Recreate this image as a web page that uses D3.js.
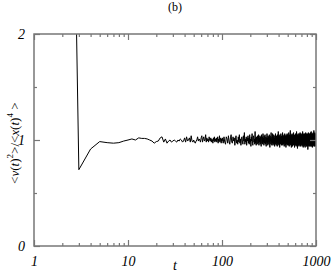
<!DOCTYPE html>
<html>
<head>
<meta charset="utf-8">
<script src="https://cdn.jsdelivr.net/npm/d3@7"></script>
<style>
	body { margin: 0; background: #fff; }
	svg { display: block; font-family: "Liberation Serif", "DejaVu Serif", serif; }
	.axis path { display: none; }
	.axis line { stroke: #777; stroke-width: 1.2; }
</style>
</head>
<body>
<div id="chart"></div>
<script>

/* early part of the curve, t = 2 .. 20 */
var tEarly = [2, 3, 4, 5, 6, 7, 8, 9, 10, 11, 12, 13, 14, 15, 16, 17, 18, 19, 20];
var vEarly = [10, 0.72, 0.915, 0.985, 0.975, 0.97, 0.975, 0.99, 1.0, 1.01, 1.0, 1.02, 1.015, 1.015, 1.01, 1.0, 0.99, 0.97, 0.985];

/* t = 21 .. 100 */
var tMid = d3.range(21, 101);
var vMid = [
	0.99, 1.02, 1.03, 0.98, 1.01, 0.97, 0.99, 1.0, 0.98, 0.99,
	1.0, 0.99, 0.98, 1.0, 0.99, 1.01, 1.0, 0.98, 0.99, 1.02,
	0.98, 1.03, 0.99, 1.0, 1.02, 0.98, 1.04, 0.99, 0.98, 1.0,
	0.98, 0.97, 0.99, 1.0, 1.03, 0.99, 1.01, 1.0, 0.98, 1.02,
	1.04, 0.98, 1.01, 1.03, 0.99, 1.0, 1.05, 0.98, 1.02, 0.99,
	1.01, 0.98, 1.03, 1.0, 0.99, 1.02, 0.98, 1.01, 1.0, 0.97,
	1.02, 0.99, 1.03, 0.98, 1.01, 0.99, 1.02, 0.98, 1.0, 1.03,
	0.97, 1.01, 0.99, 1.04, 0.98, 1.0, 1.02, 0.97, 1.01, 0.99
];

/* t = 101 .. 999, every second step */
var tLate = d3.range(101, 1000, 2);
var vLate = [
	1.02, 0.97, 1.03, 0.98, 0.96, 1.03, 1.01, 0.97, 1.04, 0.99, 0.96, 1.02, 1.05, 0.98, 0.97, 1.03, 0.99, 1.02, 0.95, 1.01, 1.04, 0.97, 1.00, 0.96, 1.03,
	0.98, 1.05, 0.97, 1.01, 0.95, 1.02, 1.03, 0.98, 0.96, 1.04, 0.99, 1.07, 0.96, 1.01, 0.98, 1.03, 0.95, 1.02, 0.99, 1.04, 0.97, 1.02, 0.96, 1.05, 0.98,
	1.01, 0.94, 1.03, 0.99, 1.06, 0.97, 0.95, 1.02, 1.04, 0.98, 1.01, 0.96, 1.08, 0.97, 1.02, 0.95, 1.03, 0.99, 0.96, 1.04, 1.01, 0.97, 1.05, 0.95, 1.02,
	0.98, 1.04, 0.96, 1.03, 0.99, 0.94, 1.05, 1.00, 0.97, 1.03, 0.96, 1.06, 0.98, 1.02, 0.95, 1.04, 0.97, 1.01, 1.05, 0.96, 0.99, 1.03, 0.94, 1.02, 0.98,
	1.06, 0.97, 1.02, 0.95, 1.04, 0.98, 1.03, 0.96, 1.00, 1.05, 0.97, 0.93, 1.04, 0.99, 1.02, 0.96, 1.07, 0.98, 1.01, 0.95, 1.03, 0.97, 1.06, 0.99, 0.95,
	1.03, 0.97, 1.05, 0.96, 1.02, 0.98, 0.94, 1.04, 1.01, 0.96, 1.06, 0.98, 1.03, 0.95, 1.00, 1.04, 0.97, 1.02, 0.94, 1.05, 0.99, 1.03, 0.96, 1.08, 0.97,
	1.01, 0.95, 1.04, 0.98, 1.02, 0.93, 1.05, 0.97, 1.03, 0.99, 0.96, 1.06, 0.98, 1.02, 0.95, 1.04, 1.00, 0.96, 1.03, 0.98, 1.07, 0.95, 1.02, 0.97, 1.04,
	0.96, 1.03, 0.99, 1.05, 0.94, 1.02, 0.97, 1.06, 0.98, 1.01, 0.95, 1.04, 0.97, 1.03, 0.93, 1.05, 0.99, 1.02, 0.96, 1.04, 0.98, 1.06, 0.95, 1.01, 0.97,
	1.05, 0.96, 1.02, 0.98, 1.04, 0.95, 1.07, 0.97, 1.01, 0.94, 1.03, 0.99, 1.05, 0.96, 1.02, 0.98, 1.09, 0.96, 1.03, 0.95, 1.04, 0.98, 1.01, 0.93, 1.05,
	0.97, 1.03, 0.96, 1.06, 0.98, 1.02, 0.94, 1.04, 0.99, 1.05, 0.96, 1.02, 0.97, 1.07, 0.95, 1.03, 0.98, 1.04, 0.96, 1.01, 0.93, 1.05, 0.98, 1.03, 0.96,
	1.04, 0.97, 1.06, 0.95, 1.02, 0.98, 1.05, 0.94, 1.03, 0.97, 1.08, 0.96, 1.01, 0.95, 1.04, 0.98, 1.02, 0.92, 1.05, 0.97, 1.03, 0.96, 1.06, 0.98, 1.02,
	0.95, 1.04, 0.97, 1.03, 0.94, 1.06, 0.98, 1.02, 0.96, 1.05, 0.99, 1.03, 0.95, 1.07, 0.97, 1.02, 0.94, 1.04, 0.98, 1.06, 0.96, 1.01, 0.95, 1.04, 0.97,
	1.05, 0.96, 1.03, 0.98, 1.06, 0.94, 1.02, 0.97, 1.04, 0.95, 1.08, 0.98, 1.03, 0.96, 1.05, 0.93, 1.02, 0.97, 1.04, 0.96, 1.06, 0.98, 1.01, 0.94, 1.05,
	0.97, 1.03, 0.95, 1.06, 0.98, 1.02, 0.96, 1.04, 0.93, 1.05, 0.97, 1.03, 0.96, 1.07, 0.98, 1.02, 0.95, 1.04, 0.97, 1.06, 0.94, 1.03, 0.98, 1.05, 0.96,
	1.04, 0.97, 1.02, 0.94, 1.06, 0.98, 1.03, 0.96, 1.05, 0.91, 1.04, 0.97, 1.02, 0.95, 1.07, 0.98, 1.03, 0.96, 1.05, 0.94, 1.02, 0.97, 1.06, 0.95, 1.03,
	0.98, 1.05, 0.96, 1.03, 0.94, 1.06, 0.97, 1.02, 0.95, 1.04, 0.98, 1.07, 0.96, 1.03, 0.94, 1.05, 0.97, 1.02, 0.95, 1.08, 0.97, 1.03, 0.96, 1.05, 0.94,
	1.04, 0.97, 1.06, 0.95, 1.02, 0.98, 1.05, 0.93, 1.03, 0.97, 1.06, 0.96, 1.04, 0.98, 1.02, 0.94, 1.07, 0.97, 1.03, 0.95, 1.05, 0.98, 1.02, 0.96, 1.09,
	0.96, 1.03, 0.95, 1.06, 0.98, 1.04, 0.94, 1.05, 0.97, 1.03, 0.96, 1.07, 0.95, 1.02, 0.98, 1.05, 0.94, 1.04, 0.97, 1.06, 0.96, 1.03, 0.95, 1.05, 0.97
];

var xMajor = [1, 10, 100, 1000];
var xMinor = [2, 3, 4, 5, 6, 7, 8, 9, 20, 30, 40, 50, 60, 70, 80, 90, 200, 300, 400, 500, 600, 700, 800, 900];
var yMajor = [0, 1, 2];
var yMinor = [0.5, 1.5];

var W = 332, H = 273;
var margin = {top: 34, right: 16, bottom: 27, left: 34};
var width = W - margin.left - margin.right;
var height = H - margin.top - margin.bottom;

var svg = d3.select("#chart").append("svg")
	.attr("width", W)
	.attr("height", H);

var g = svg.append("g")
	.attr("transform", "translate(" + margin.left + "," + margin.top + ")");

var x = d3.scaleLog().domain([1, 1000]).range([0, width]);
var y = d3.scaleLinear().domain([0, 2]).range([height, 0]);

var data = [];
tEarly.forEach(function(t, i){ data.push({t: t, v: vEarly[i]}); });
tMid.forEach(function(t, i){ data.push({t: t, v: vMid[i]}); });
tLate.forEach(function(t, i){ data.push({t: t, v: vLate[i]}); });

g.append("clipPath").attr("id", "clip")
	.append("rect").attr("width", width).attr("height", height);

var line = d3.line()
	.x(function(d){ return x(d.t); })
	.y(function(d){ return y(d.v); });

g.append("path")
	.datum(data)
	.attr("clip-path", "url(#clip)")
	.attr("fill", "none")
	.attr("stroke", "#000")
	.attr("stroke-width", 1)
	.attr("d", line);

/* ticks point inward on all four sides */
var fmt = function(d){ return d; };

var styleLabels = function(sel){
	sel.selectAll("text")
		.style("font-family", "'Liberation Serif', serif")
		.style("font-size", "14px")
		.style("font-style", "italic")
		.attr("fill", "#000");
};

g.append("g").attr("class", "axis")
	.attr("transform", "translate(0," + height + ")")
	.call(d3.axisBottom(x).tickValues(xMajor).tickFormat(fmt).tickSizeInner(-6).tickPadding(8))
	.call(styleLabels)
	.selectAll("text").attr("dy", "0.85em");
g.append("g").attr("class", "axis")
	.attr("transform", "translate(0," + height + ")")
	.call(d3.axisBottom(x).tickValues(xMinor).tickFormat("").tickSizeInner(-3));
g.append("g").attr("class", "axis")
	.call(d3.axisTop(x).tickValues(xMajor).tickFormat("").tickSizeInner(-6));
g.append("g").attr("class", "axis")
	.call(d3.axisTop(x).tickValues(xMinor).tickFormat("").tickSizeInner(-3));

g.append("g").attr("class", "axis")
	.call(d3.axisLeft(y).tickValues(yMajor).tickFormat(fmt).tickSizeInner(-6).tickPadding(9))
	.call(styleLabels);
g.append("g").attr("class", "axis")
	.call(d3.axisLeft(y).tickValues(yMinor).tickFormat("").tickSizeInner(-3));
g.append("g").attr("class", "axis")
	.attr("transform", "translate(" + width + ",0)")
	.call(d3.axisRight(y).tickValues(yMajor).tickFormat("").tickSizeInner(-6));
g.append("g").attr("class", "axis")
	.attr("transform", "translate(" + width + ",0)")
	.call(d3.axisRight(y).tickValues(yMinor).tickFormat("").tickSizeInner(-3));

g.append("rect")
	.attr("width", width)
	.attr("height", height)
	.attr("fill", "none")
	.attr("stroke", "#777")
	.attr("stroke-width", 1.5);

svg.append("text")
	.attr("x", 175)
	.attr("y", 11)
	.attr("text-anchor", "middle")
	.style("font-size", "12px")
	.text("(b)");

svg.append("text")
	.attr("x", margin.left + x(31.6))
	.attr("y", 270)
	.attr("text-anchor", "middle")
	.style("font-size", "14px")
	.style("font-style", "italic")
	.text("t");

/* y label with superscripts */
var ylab = svg.append("text")
	.attr("transform", "translate(19," + (margin.top + y(0.97)) + ") rotate(-90)")
	.attr("text-anchor", "middle")
	.style("font-size", "13px");
ylab.append("tspan").text("<");
ylab.append("tspan").style("font-style", "italic").text("v");
ylab.append("tspan").text("(");
ylab.append("tspan").style("font-style", "italic").text("t");
ylab.append("tspan").text(")");
ylab.append("tspan").attr("dy", -6).style("font-size", "9px").text("2");
ylab.append("tspan").attr("dy", 6).text(">/<");
ylab.append("tspan").style("font-style", "italic").text("x");
ylab.append("tspan").text("(");
ylab.append("tspan").style("font-style", "italic").text("t");
ylab.append("tspan").text(")");
ylab.append("tspan").attr("dy", -6).style("font-size", "9px").text("4");
ylab.append("tspan").attr("dy", 6).text(" >");

</script>
</body>
</html>
